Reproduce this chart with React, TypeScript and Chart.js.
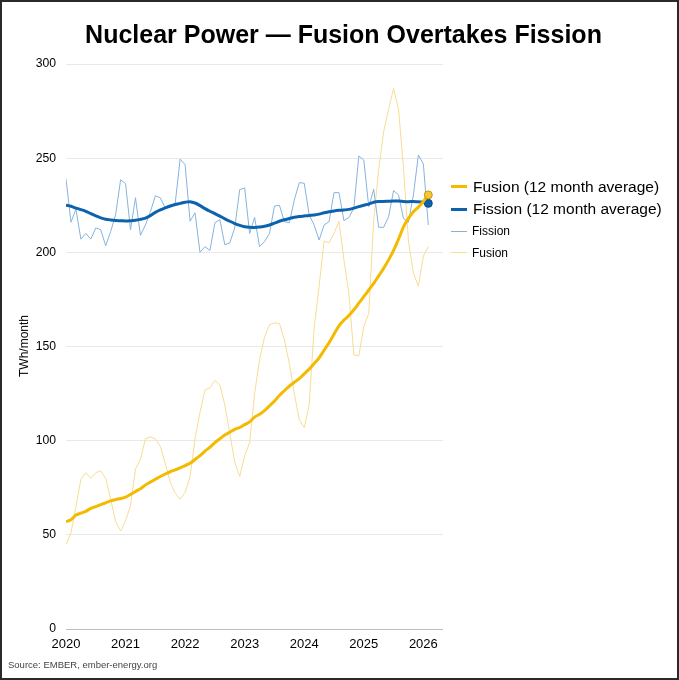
import { useEffect, useRef } from "react";
import { Chart, registerables } from "chart.js";

Chart.register(...registerables);

const startYear = 2020;
const yearTicks = [2020, 2021, 2022, 2023, 2024, 2025, 2026];
const yTicks = [0, 50, 100, 150, 200, 250, 300];

const fissionMonthly = [
  239, 216, 223, 207, 210, 207, 213, 212, 203.5, 211, 220, 238.5,
  236.5, 212, 229, 209, 214.5, 221.5, 230, 229, 223.5, 224, 226, 249.5,
  246.5, 216.5, 221, 200, 203, 201, 215.7, 217.4, 204, 205, 213, 233.3,
  234.2, 210, 218.5, 203, 205.7, 210, 224.6, 225, 216.3, 215.7, 227.8, 237,
  236.7, 219.8, 214.5, 206.5, 214.5, 216.3, 231.7, 231.7, 216.8, 218.5, 223.4, 251.2,
  249, 224.2, 233.5, 213.3, 213.3, 218.9, 232.8, 230.5, 218, 216, 230.5, 251.7,
  246.9, 214.5,
];

const fusionMonthly = [
  45, 51, 65, 79.5, 83, 80, 83, 84, 80, 69, 57, 52,
  57.5, 65.5, 85, 90, 101, 102, 101, 97, 88, 78, 72, 69,
  72.5, 81, 101, 115, 127, 128, 132, 129.5, 119, 104, 88.5, 81,
  92, 99, 125, 143, 155, 161.5, 162.5, 162.3, 153.5, 141, 125, 111,
  107, 119, 160, 182, 206, 205, 210, 216.6, 196, 178, 145.5, 145,
  160.5, 167.6, 217, 244, 264, 276, 287, 276, 245, 206, 189, 182,
  198, 203,
];

const fissionAverage = [
  225, 224.5, 223.5, 222.7, 221.8, 220.5, 219.3, 218.3, 217.6, 217.2, 216.9, 216.8,
  216.7, 216.8, 217, 217.5, 218.2, 219.5, 221.2, 222.5, 223.6, 224.6, 225.4, 226,
  226.6, 226.9, 226.2, 224.8, 223.2, 221.8, 220.6, 219.2, 217.8, 216.5, 215.3, 214.3,
  213.6, 213.3, 213.2, 213.4, 213.8, 214.5, 215.5, 216.5, 217.3, 218, 218.6, 219,
  219.3, 219.6, 219.8, 220.3, 221, 221.6, 222, 222.3, 222.5, 222.8, 223.5, 224.3,
  225, 225.6, 226.6, 227, 227, 227.1, 227.2, 227.2, 227, 226.9, 227, 226.8,
  226.7, 226,
];

const fusionAverage = [
  57, 58, 60.5, 61.5, 62.5, 64, 65, 66, 67, 68, 68.7, 69.3,
  70, 71.5, 73, 74.5, 76.5, 78, 79.5, 81, 82.3, 83.5, 84.5, 85.5,
  86.8, 88, 90, 92, 94.5, 96.5, 99, 101, 103, 104.5, 106, 107,
  108.5, 110, 112.5, 114, 116, 118.5, 121, 124, 126.5, 129, 131, 133,
  135.5, 138, 141, 144, 148, 152, 156.5, 161, 164, 166.5, 169.5, 173,
  176.5, 180, 183.5, 187.5, 191.5, 196, 201, 207, 213.5, 218, 221.5, 224,
  227, 230.5,
];

const seriesLabels = [
  "Fusion (12 month average)",
  "Fission (12 month average)",
  "Fission",
  "Fusion",
];

const COLORS = {
  fusionAvg: "#F4BA00",
  fissionAvg: "#0D62AE",
  fission: "#86B3DE",
  fusion: "#F8DC92",
};

const FONT = "'Liberation Sans', Arial, Helvetica, sans-serif";

function toPoints(values: number[]) {
  return values.map((v, i) => ({ x: startYear + i / 12, y: v }));
}

function lastOnly(radius: number, n: number) {
  return (ctx: any) => (ctx.dataIndex === n - 1 ? radius : 0);
}

export default function App() {
  const canvasRef = useRef<HTMLCanvasElement | null>(null);

  useEffect(() => {
    if (!canvasRef.current) return;
    const chart = new Chart(canvasRef.current, {
      type: "line",
      data: {
        datasets: [
          {
            label: seriesLabels[0],
            data: toPoints(fusionAverage),
            borderColor: COLORS.fusionAvg,
            borderWidth: 3,
            tension: 0.3,
            pointRadius: lastOnly(4, fusionAverage.length),
            pointHoverRadius: 0,
            pointBackgroundColor: "#F6C53A",
            pointBorderColor: "#C99700",
            pointBorderWidth: 1,
            order: 0,
          },
          {
            label: seriesLabels[1],
            data: toPoints(fissionAverage),
            borderColor: COLORS.fissionAvg,
            borderWidth: 3,
            tension: 0.3,
            pointRadius: lastOnly(4, fissionAverage.length),
            pointHoverRadius: 0,
            pointBackgroundColor: "#0D62AE",
            pointBorderColor: "#0A4C88",
            pointBorderWidth: 1,
            order: 1,
          },
          {
            label: seriesLabels[2],
            data: toPoints(fissionMonthly),
            borderColor: COLORS.fission,
            borderWidth: 1,
            tension: 0,
            pointRadius: 0,
            order: 2,
          },
          {
            label: seriesLabels[3],
            data: toPoints(fusionMonthly),
            borderColor: COLORS.fusion,
            borderWidth: 1,
            tension: 0,
            pointRadius: 0,
            order: 3,
          },
        ],
      },
      options: {
        animation: false,
        responsive: false,
        events: [],
        layout: { padding: { left: 0, top: 62, right: 234, bottom: 19 } },
        plugins: {
          legend: { display: false },
          title: { display: false },
          tooltip: { enabled: false },
        },
        scales: {
          x: {
            type: "linear",
            min: 2020,
            max: 2026.33,
            afterBuildTicks: (scale: any) => {
              scale.ticks = yearTicks.map((v) => ({ value: v }));
            },
            afterFit: (scale: any) => {
              scale.height = 30;
            },
            ticks: {
              autoSkip: false,
              maxRotation: 0,
              padding: 8,
              color: "#000",
              font: { family: FONT, size: 13 },
              callback: (v: any) => String(v),
            },
            grid: { display: false, drawTicks: false },
            border: { display: false },
          },
          y: {
            min: 0,
            max: 300,
            afterBuildTicks: (scale: any) => {
              scale.ticks = yTicks.map((v) => ({ value: v }));
            },
            afterFit: (scale: any) => {
              scale.width = 64;
            },
            ticks: {
              padding: 10,
              color: "#000",
              font: { family: FONT, size: 12.2 },
            },
            grid: {
              drawTicks: false,
              color: (ctx: any) => (ctx.tick && ctx.tick.value === 0 ? "#BDBDBD" : "#E9E9E9"),
              lineWidth: 1,
            },
            border: { display: false },
          },
        },
      },
    } as any);
    return () => chart.destroy();
  }, []);

  const legendRows = [
    { text: seriesLabels[0], color: COLORS.fusionAvg, thick: true, cy: 186.7 },
    { text: seriesLabels[1], color: COLORS.fissionAvg, thick: true, cy: 209.3 },
    { text: seriesLabels[2], color: COLORS.fission, thick: false, cy: 231 },
    { text: seriesLabels[3], color: COLORS.fusion, thick: false, cy: 252.7 },
  ];

  return (
    <div
      style={{
        position: "fixed",
        left: 0,
        top: 0,
        width: 679,
        height: 680,
        boxSizing: "border-box",
        border: "2px solid #2a2a2a",
        background: "#fff",
        fontFamily: FONT,
        overflow: "hidden",
      }}
    >
      <canvas
        ref={canvasRef}
        width={675}
        height={676}
        style={{ position: "absolute", left: 0, top: 0, width: 675, height: 676 }}
      />
      <div
        style={{
          position: "fixed",
          left: 0,
          top: 19,
          width: 687,
          height: 30,
          lineHeight: "30px",
          textAlign: "center",
          fontSize: 25,
          fontWeight: "bold",
          color: "#000",
          whiteSpace: "nowrap",
        }}
      >
        Nuclear Power — Fusion Overtakes Fission
      </div>
      <div
        style={{
          position: "fixed",
          left: 24,
          top: 346,
          transform: "translate(-50%, -50%) rotate(-90deg)",
          fontSize: 12,
          color: "#000",
          whiteSpace: "nowrap",
        }}
      >
        TWh/month
      </div>
      {legendRows.map((r) => (
        <div
          key={r.text}
          style={{
            position: "fixed",
            left: 451,
            top: r.cy - 10,
            height: 20,
            display: "flex",
            alignItems: "center",
            whiteSpace: "nowrap",
          }}
        >
          <span
            style={{
              display: "inline-block",
              width: 16,
              height: r.thick ? 3 : 1,
              background: r.color,
            }}
          />
          <span
            style={{
              marginLeft: r.thick ? 6 : 5,
              fontSize: r.thick ? 15.5 : 12,
              color: "#000",
            }}
          >
            {r.text}
          </span>
        </div>
      ))}
      <div
        style={{
          position: "fixed",
          left: 8,
          top: 659,
          fontSize: 9.5,
          color: "#444",
          whiteSpace: "nowrap",
        }}
      >
        Source: EMBER, ember-energy.org
      </div>
    </div>
  );
}
